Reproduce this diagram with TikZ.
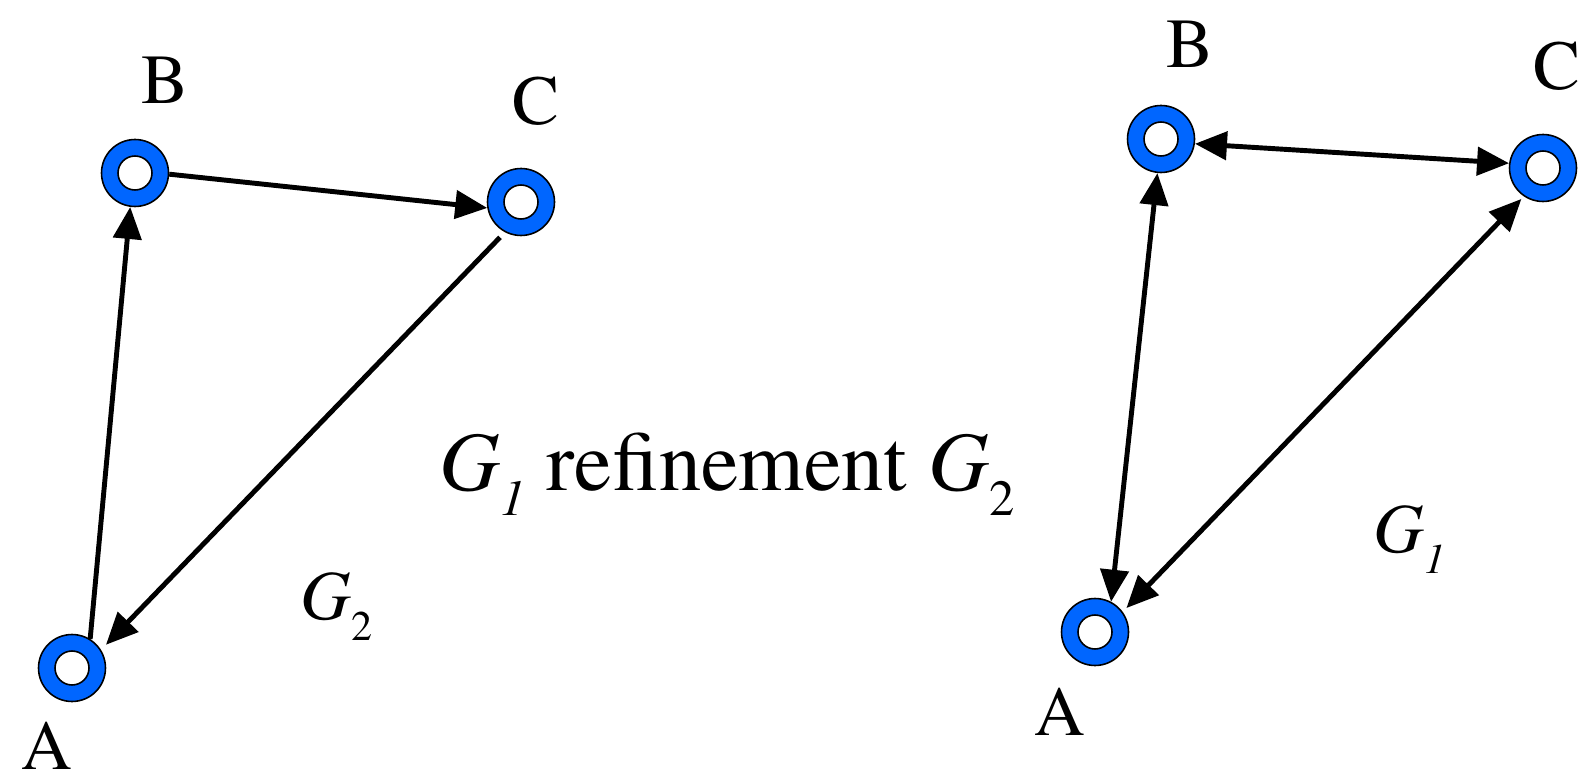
\documentclass[tikz,border=0pt]{standalone}
\usepackage[T1]{fontenc}
\usepackage{times}
\usetikzlibrary{arrows.meta, positioning, calc}
\definecolor{vertexblue}{RGB}{0, 102, 255}
\newcommand{\gsub}[2]{\textit{#1}\raisebox{-0.3em}{\scalebox{0.6}{#2}}}

\begin{document}
\begin{tikzpicture}[
    x=0.02cm, y=-0.02cm,
    vertex/.style={circle, draw, line width=0.9pt, fill=vertexblue, minimum size=1.34cm, inner sep=0pt,
        path picture={\draw[line width=0.9pt, fill=white] (path picture bounding box.center) circle (0.34cm);}},
    lbl/.style={font=\fontsize{40}{48}\selectfont, inner sep=0pt},
    title/.style={font=\fontsize{48}{58}\selectfont, inner sep=0pt},
    arrow/.style={-{Triangle[length=0.64cm, width=0.56cm]}, line width=2.8pt},
    twoway/.style={{Triangle[length=0.64cm, width=0.56cm]}-{Triangle[length=0.64cm, width=0.56cm]}, line width=2.8pt}
]
\useasboundingbox (0,0) rectangle (1585,780);

% Left graph G2
\node[vertex] (lA) at (72,668) {};
\node[vertex] (lB) at (135,173) {};
\node[vertex] (lC) at (521,202) {};
\node[lbl] (lAt) at ($(lA)+(-25,78)$) {A};
\node[lbl] (lBt) at ($(lB)+(30,-92)$) {B};
\node[lbl] (lCt) at ($(lC)+(15,-101)$) {C};

\draw[arrow] (lA.58) -- (lB.-98);
\draw[arrow] (lB.-2) -- (lC.190);
\draw[arrow, shorten <=4pt, shorten >=4pt] (lC.-118) -- (lA.32);

\node[lbl, anchor=base west] (g2) at (300,619) {\gsub{G}{2}};

% Relation
\node[title, anchor=base] (rel) at (727,490) {\gsub{G}{\textit{1}} refinement \gsub{G}{2}};

% Right graph G1
\node[vertex] (rA) at (1095,632) {};
\node[vertex] (rB) at (1161,139) {};
\node[vertex] (rC) at (1543,168) {};
\node[lbl] (rAt) at ($(rA)+(-35,80)$) {A};
\node[lbl] (rBt) at ($(rB)+(29,-94)$) {B};
\node[lbl] (rCt) at ($(rC)+(14,-102)$) {C};

\draw[twoway] (rA.62) -- (rB.-96);
\draw[twoway] (rB.-8) -- (rC.172);
\draw[twoway, shorten <=2pt, shorten >=3pt] (rC.-124) -- (rA.36);

\node[lbl, anchor=base west] (g1) at (1373,552) {\gsub{G}{\textit{1}}};

\end{tikzpicture}
\end{document}
